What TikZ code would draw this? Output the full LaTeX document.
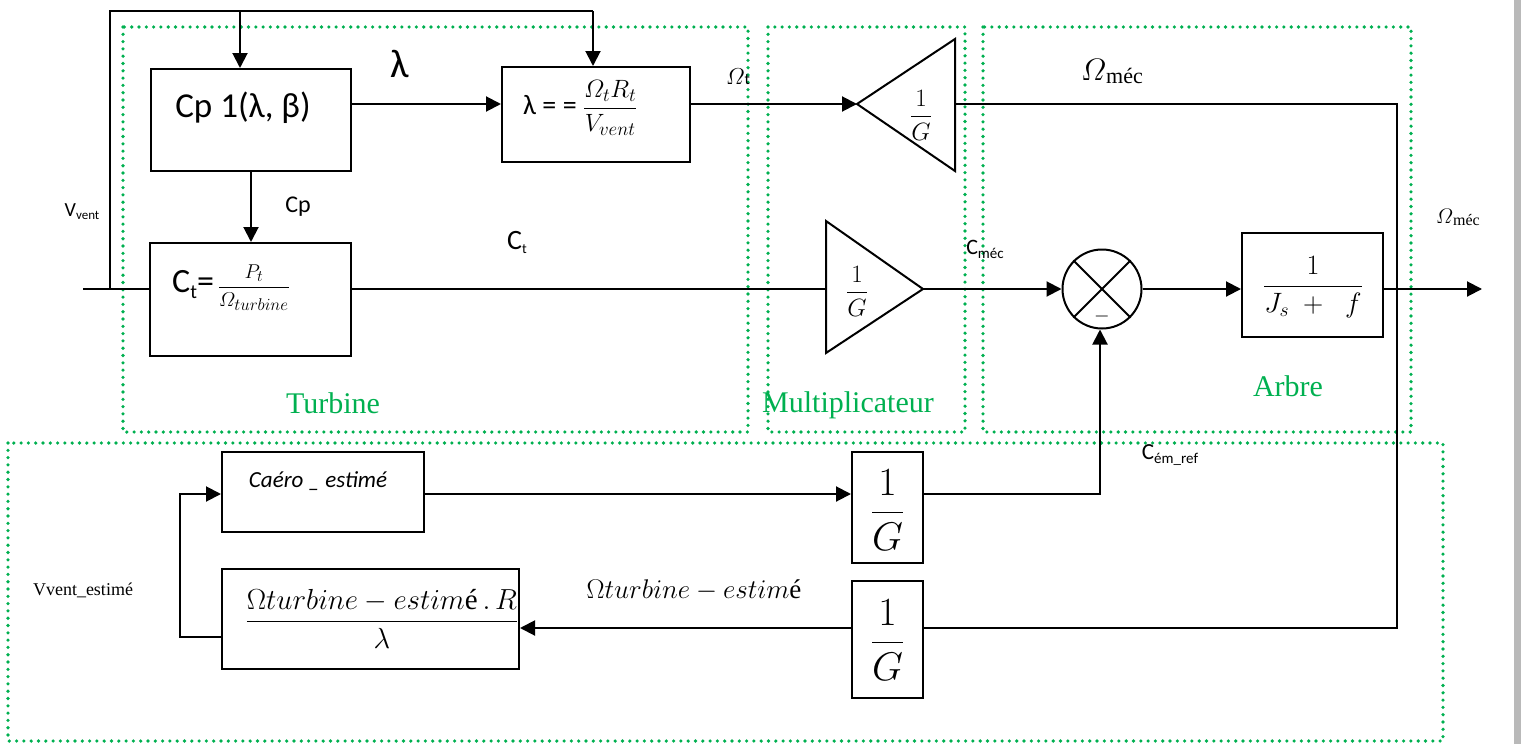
\RequirePackage{fix-cm}
\documentclass[tikz,border=0pt]{standalone}
\usepackage{amsmath}
\usepackage[no-math]{fontspec}
\setmainfont{Carlito}
\newfontfamily\tnr{Liberation Serif}
\usetikzlibrary{arrows.meta}
\definecolor{zgreen}{RGB}{0,176,80}
\newcommand{\fsz}[1]{\fontsize{#1}{#1}\selectfont}
\newcommand{\sbx}[2]{\mbox{\fsz{#1}$#2$}}
\newcommand{\eac}{\mbox{\tnr é}}
\begin{document}
\begin{tikzpicture}[x=1pt,y=-1pt,
 ln/.style={line width=2pt},
 arr/.style={line width=2pt,-{Triangle[length=15pt,width=15pt]}},
 blk/.style={draw,line width=2pt,inner sep=0pt},
 zone/.style={draw=zgreen,line width=3.6pt,dash pattern=on 0pt off 7.3pt,line cap=round},
 zlab/.style={inner sep=0pt,text=zgreen,font=\tnr\fsz{30}},
 txt/.style={inner sep=0pt}]
\useasboundingbox (0,0) rectangle (1525,744);
\fill[gray!55] (1514,0) rectangle (1521,744);

% zones
\draw[zone] (123,27) rectangle (748,432);
\draw[zone] (768,27) rectangle (965,432);
\draw[zone] (983,27) rectangle (1411,432);
\draw[zone] (8,443) rectangle (1443,741);
\node[zlab] (zt) at (333,403) {Turbine};
\node[zlab] (zm) at (848,405) {Multiplicateur};
\node[zlab] (za) at (1288,386) {Arbre};

% top row blocks
\node[blk,minimum width=200pt,minimum height=102pt] (cp) at (251,120) {};
\node[txt,font=\fsz{35}] (cptxt) at (243,108) {Cp 1(λ, β)};
\node[blk,minimum width=188pt,minimum height=95pt] (lam) at (596,114.5) {};
\node[txt,anchor=west] (lamtxt) at (523,108) {\fsz{28}λ = = \fsz{25}$\dfrac{\varOmega_{\sbx{19}{t}}R_{\sbx{19}{t}}}{V_{\sbx{19}{vent}}}$};
\node[blk,minimum width=201pt,minimum height=113pt] (ct) at (250.5,299.5) {};
\node[txt,anchor=west] (cttxt) at (172,288) {\fsz{34}C\raisebox{-6pt}{\fsz{20}t}=\hspace{4pt}\fsz{20}$\dfrac{P_{\sbx{16}{t}}}{\varOmega_{\sbx{17}{turbine}}}$};

% triangles
\coordinate (t1tip) at (857,104);
\coordinate (t1top) at (955,39);
\coordinate (t1bot) at (955,171);
\coordinate (t1back) at (955,104);
\draw[ln,line join=miter] (t1tip) -- (t1top) -- (t1bot) -- cycle;
\node[txt,font=\fsz{25}] (t1txt) at (921,115) {$\dfrac{1}{G}$};
\coordinate (t2tip) at (923,289);
\coordinate (t2top) at (826,221);
\coordinate (t2bot) at (826,353);
\coordinate (t2back) at (826,289);
\draw[ln,line join=miter] (t2tip) -- (t2top) -- (t2bot) -- cycle;
\node[txt,font=\fsz{25}] (t2txt) at (857,291) {$\dfrac{1}{G}$};

% summation
\node[draw,circle,line width=2pt,minimum size=79pt,inner sep=0pt] (sum) at (1102,289) {};
\draw[ln] (sum.north west) -- (sum.south east);
\draw[ln] (sum.north east) -- (sum.south west);
\node[txt,font=\fsz{20}] (sminus) at (1102,316) {$-$};

% arbre
\node[blk,minimum width=141pt,minimum height=104pt] (arb) at (1312.5,285) {};
\node[txt,font=\fsz{28}] (arbtxt) at (1313,287) {$\dfrac{1}{J_s\;+\;\;f}$};

% bottom blocks
\node[blk,minimum width=202pt,minimum height=80pt] (ca) at (323,492) {};
\node[txt,font=\itshape\fsz{23}] (catxt) at (318,481) {Caéro \_ estimé};
\node[blk,minimum width=297pt,minimum height=100pt] (om) at (370.5,619) {};
\node[txt] (omtxt) at (382,619) {\fsz{29}$\dfrac{\Omega turbine-estim\eac\,.\,R}{\lambda}$};
\node[blk,minimum width=71pt,minimum height=111pt] (gu) at (887.5,507.5) {};
\node[txt,font=\fsz{40}] (gutxt) at (887.5,510) {$\dfrac{1}{G}$};
\node[blk,minimum width=71pt,minimum height=117pt] (gl) at (887.5,639.5) {};
\node[txt,font=\fsz{40}] (gltxt) at (887.5,640) {$\dfrac{1}{G}$};

% connectors top
\coordinate (in) at (83,289);
\coordinate (vj) at (110,289);
\coordinate (vtop) at (110,11);
\coordinate (cptop) at (240,11);
\coordinate (ltop) at (593,11);
\draw[ln] (in) -- (ct.west |- in);
\draw[ln] (vj) -- (vtop) -- (ltop);
\draw[arr] (ltop) -- (ltop |- lam.north);
\draw[arr] (cptop) -- (cptop |- cp.north);
\coordinate (ly) at (0,104);
\draw[arr] (cp.east |- ly) -- (lam.west |- ly);
\draw[arr] (cp.south) -- (cp.south |- ct.north);
\draw[arr] (lam.east |- ly) -- (t1tip);
\draw[ln] (ct.east |- t2back) -- (t2back);
\draw[arr] (t2tip) -- (sum.west);
\draw[arr] (sum.east) -- (sum.east -| arb.west);
\coordinate (out) at (1482,289);
\draw[arr] (arb.east |- out) -- (out);

% feedback
\coordinate (fbT) at (1397,104);
\coordinate (fbB) at (1397,628);
\draw[ln] (t1back) -- (fbT) -- (fbB) -- (gl.east |- fbB);
\draw[arr] (gl.west |- fbB) -- (om.east |- fbB);
\coordinate (ll) at (180,637);
\coordinate (lu) at (180,494);
\draw[arr] (om.west |- ll) -- (ll) -- (lu) -- (lu -| ca.west);
\draw[arr] (lu -| ca.east) -- (lu -| gu.west);
\coordinate (cj) at (1100,494);
\draw[arr] (lu -| gu.east) -- (cj) -- (cj |- sum.south);

% labels
\node[txt,font=\fsz{40}] (llam) at (400,64) {λ};
\node[txt,font=\fsz{24}] (lcp) at (298,207) {Cp};
\node[txt] (lct) at (517,242) {\fsz{28}C\raisebox{-4pt}{\fsz{14}t}};
\node[txt] (lot) at (738,77) {\fsz{23}$\varOmega$\fsz{16}t};
\node[txt] (lom1) at (1112,72) {\fsz{31}$\varOmega$\raisebox{-3pt}{\tnr\fsz{22}méc}};
\node[txt] (lom2) at (1458,217) {\fsz{21}$\varOmega$\raisebox{-2pt}{\tnr\fsz{16}méc}};
\node[txt] (lvv) at (82,212) {\fsz{20}V\raisebox{-3pt}{\fsz{13}vent}};
\node[txt] (lcm) at (985,249) {\fsz{22}C\raisebox{-4pt}{\fsz{15}méc}};
\node[txt] (lcem) at (1170,455) {\fsz{23}C\raisebox{-4pt}{\fsz{15}ém\_ref}};
\node[txt,font=\tnr\fsz{18}] (lvve) at (83,590) {Vvent\_estimé};
\node[txt] (lote) at (694,590) {\fsz{27}$\Omega turbine-estim\eac$};
\end{tikzpicture}
\end{document}
